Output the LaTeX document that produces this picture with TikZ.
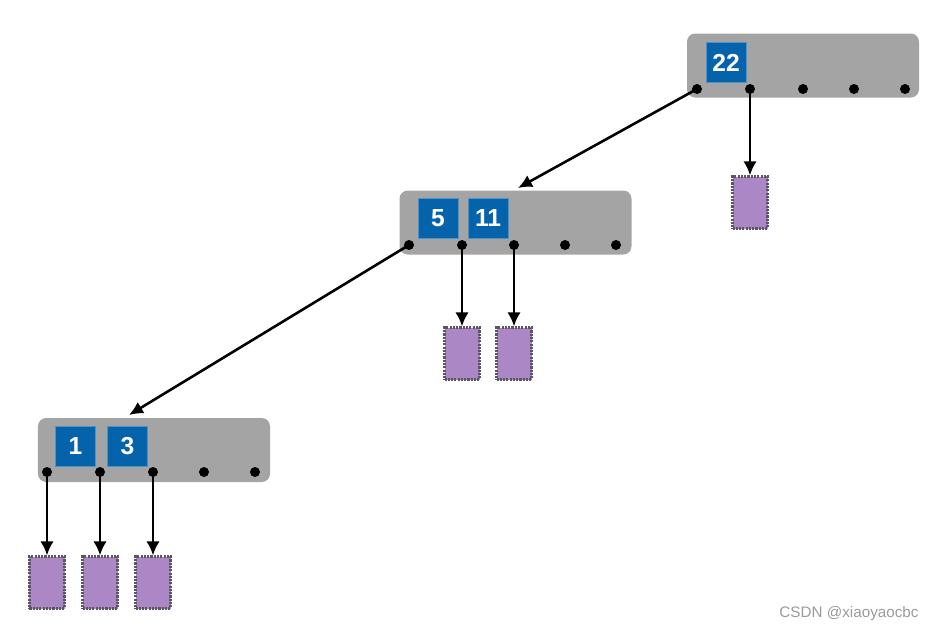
\documentclass[tikz,border=0pt]{standalone}
\usepackage{fontspec}
\setmainfont{Liberation Sans}
\usepackage{xcolor}
\usepackage{tikz}
\usetikzlibrary{positioning, arrows.meta}
\definecolor{pagebox}{HTML}{A4A4A4}
\definecolor{keyblue}{HTML}{0563AB}
\definecolor{leaf}{HTML}{AC87C6}
\definecolor{leafrim}{HTML}{5A5560}
\definecolor{mark}{HTML}{9A9A9A}

\begin{document}
\begin{tikzpicture}[x=0.03cm, y=-0.03cm,
  pg/.style={rounded corners=7pt, fill=pagebox, inner sep=0pt,
             minimum width=6.96cm, minimum height=1.92cm},
  ky/.style={fill=keyblue, draw=keyblue!70!white, line width=0.4pt, inner sep=0pt,
             minimum width=1.2cm, minimum height=1.2cm,
             font=\fontsize{21}{23}\selectfont\bfseries, text=white},
  pt/.style={circle, fill=black, inner sep=0pt, minimum size=0.3cm},
  lf/.style={fill=leaf, draw=leafrim, densely dotted, line width=1.8pt, inner sep=0pt,
             minimum width=1.05cm, minimum height=1.56cm},
  ar/.style={-{Latex[length=0.42cm, width=0.4cm]}, line width=2.2pt}
]
  \useasboundingbox (0,0) rectangle (935,632);

  % root page
  \node[pg] (top) at (803,65.5) {};
  \node[ky] (k22) at (726,62.5) {22};
  \node[pt] (a0) at (697,89) {};
  \node[pt] (a1) at (750,89) {};
  \node[pt] (a2) at (803,89) {};
  \node[pt] (a3) at (854,89) {};
  \node[pt] (a4) at (905,89) {};
  \node[lf] (la1) at (750,202.5) {};

  % middle page
  \node[pg] (mid) at (515.5,222.5) {};
  \node[ky] (k5) at (438,218) {5};
  \node[ky] (k11) at (488,218) {11};
  \node[pt] (b0) at (409,245) {};
  \node[pt] (b1) at (462,245) {};
  \node[pt] (b2) at (514,245) {};
  \node[pt] (b3) at (565,245) {};
  \node[pt] (b4) at (616,245) {};
  \node[lf] (lb1) at (462,353.5) {};
  \node[lf] (lb2) at (514,353.5) {};

  % bottom page
  \node[pg] (low) at (154,450) {};
  \node[ky] (k1) at (75.5,446) {1};
  \node[ky] (k3) at (127.5,446) {3};
  \node[pt] (c0) at (47,472) {};
  \node[pt] (c1) at (100,472) {};
  \node[pt] (c2) at (153,472) {};
  \node[pt] (c3) at (204,472) {};
  \node[pt] (c4) at (255,472) {};
  \node[lf] (lc0) at (47,582.5) {};
  \node[lf] (lc1) at (100,582.5) {};
  \node[lf] (lc2) at (153,582.5) {};

  \coordinate (into-mid) at (518,188);
  \coordinate (into-low) at (129,415);

  \draw[ar] (a0.center) -- (into-mid);
  \draw[ar] (a1.center) -- (la1.north);
  \draw[ar] (b0.center) -- (into-low);
  \draw[ar] (b1.center) -- (lb1.north);
  \draw[ar] (b2.center) -- (lb2.north);
  \draw[ar] (c0.center) -- (lc0.north);
  \draw[ar] (c1.center) -- (lc1.north);
  \draw[ar] (c2.center) -- (lc2.north);

  \node[font=\fontsize{13}{15}\selectfont, text=mark] (wm) at (849,614) {CSDN @xiaoyaocbc};
\end{tikzpicture}
\end{document}
